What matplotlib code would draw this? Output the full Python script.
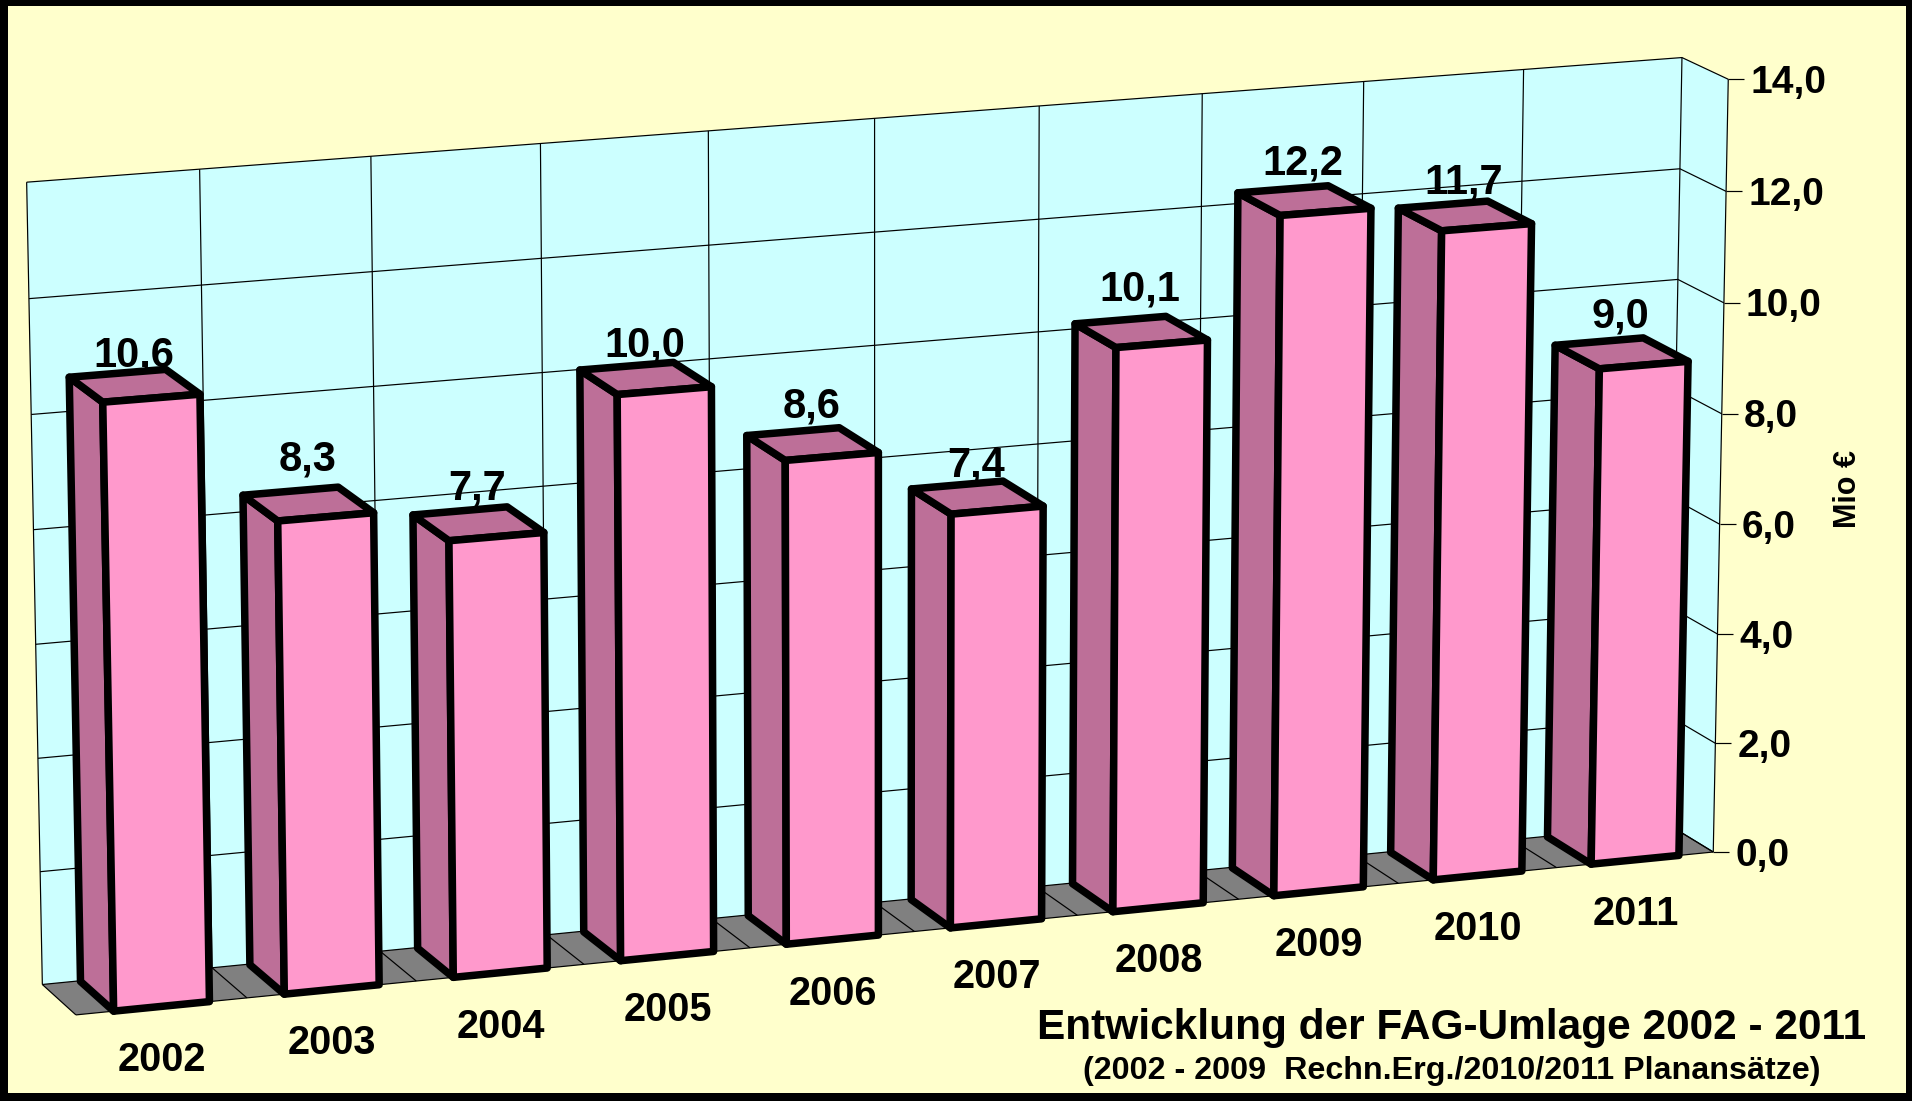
import numpy as np
import matplotlib
matplotlib.use('Agg')
import matplotlib.pyplot as plt
from matplotlib.patches import Polygon, Rectangle

plt.rcParams['font.family'] = ['Liberation Sans', 'DejaVu Sans']

# Data
years = ['2002', '2003', '2004', '2005', '2006', '2007', '2008', '2009', '2010', '2011']
values = [10.6, 8.3, 7.7, 10.0, 8.6, 7.4, 10.1, 12.2, 11.7, 9.0]
y_ticks = [0, 2, 4, 6, 8, 10, 12, 14]
title = 'Entwicklung der FAG-Umlage 2002 - 2011'
subtitle = '(2002 - 2009  Rechn.Erg./2010/2011 Planansätze)'
unit = 'Mio €'

# Hand placed nudges of the value labels, in pixels
label_nudge = [3, -11, -2, 0, -5, 1, -10, -6, -2, -5]

# Calibration of the 3D box: (category, value, depth) -> pixel in the picture
calib = [
    (0, 14, 0, 26.5, 182), (0, 12, 0, 29, 298.7), (0, 10, 0, 31.5, 415), (0, 0, 0, 42, 984),
    (1, 14, 0, 199.5, 169), (10, 14, 0, 1682, 58), (10, 12, 0, 1680, 169), (10, 10, 0, 1678, 279),
    (10, 14, 1, 1728, 79), (10, 12, 1, 1726, 191), (10, 10, 1, 1724, 303), (10, 8, 1, 1722, 414),
    (10, 2, 1, 1715, 743), (10, 0, 1, 1713, 852), (0, 0, 1, 76, 1015), (1, 0, 1, 247, 998),
    (9, 0, 1, 1557, 868),
]


def fit_projection(points):
    rows = []
    for x, v, z, px, py in points:
        X = [x / 10, v / 14, z, 1]
        u, w = px / 1000, py / 1000
        rows.append(X + [0, 0, 0, 0] + [-u * c for c in X])
        rows.append([0, 0, 0, 0] + X + [-w * c for c in X])
    _, _, vt = np.linalg.svd(np.array(rows))
    return vt[-1].reshape(3, 4)


P = fit_projection(calib)


def proj(x, v, z):
    q = P @ np.array([x / 10, v / 14, z, 1])
    return q[0] / q[2] * 1000, q[1] / q[2] * 1000


def quad(*pts):
    return [proj(*p) for p in pts]


YELLOW = '#FFFFCC'
WALL = '#CCFFFF'
FLOOR = '#808080'
FRONT = '#FF99CC'
DARK = '#BD6F98'
px = 0.72  # one pixel in points at dpi 100

fig = plt.figure(figsize=(19.12, 11.01), dpi=100, facecolor=YELLOW)
ax = fig.add_axes([0, 0, 1, 1])
ax.set_xlim(0, 1912)
ax.set_ylim(1101, 0)
ax.axis('off')

n = len(years)
ymax = y_ticks[-1]
grid = dict(color='black', lw=1.2 * px, zorder=2, solid_capstyle='butt')

# Walls and floor
ax.add_patch(Polygon(quad((0, 0, 0), (n, 0, 0), (n, ymax, 0), (0, ymax, 0)), fc=WALL, ec='none', zorder=1))
ax.add_patch(Polygon(quad((n, 0, 0), (n, 0, 1), (n, ymax, 1), (n, ymax, 0)), fc=WALL, ec='none', zorder=1))
ax.add_patch(Polygon(quad((0, 0, 0), (n, 0, 0), (n, 0, 1), (0, 0, 1)), fc=FLOOR, ec='none', zorder=1))

for t in y_ticks:
    ax.plot(*zip(*quad((0, t, 0), (n, t, 0), (n, t, 1))), **grid)
for i in range(n + 1):
    ax.plot(*zip(*quad((i, 0, 0), (i, ymax, 0))), **grid)
    ax.plot(*zip(*quad((i, 0, 0), (i, 0, 1))), **grid)
ax.plot(*zip(*quad((0, 0, 1), (n, 0, 1))), **grid)
ax.plot(*zip(*quad((n, 0, 1), (n, ymax, 1))), **grid)

# Axis ticks and labels
for t in y_ticks:
    tx, ty = proj(n, t, 1)
    ax.plot([tx, tx + 16], [ty, ty], **grid)
    ax.text(tx + 22, ty + 3.5, f'{t:.1f}'.replace('.', ','), fontsize=28, fontweight='bold',
            ha='left', va='center')
ax.text(1848, 489, unit, rotation=90, fontsize=22, fontweight='bold', ha='center', va='center')

# Bars
x0, x1 = 0.22, 0.78
z0, z1 = 0.02, 1.0
for i, (year, val) in enumerate(zip(years, values)):
    a, b = i + x0, i + x1
    lx, ly = proj(i + 0.6, val, z0)
    ax.text(lx - 1 + 0.7 * i, ly - 19 + label_nudge[i], f'{val:.1f}'.replace('.', ','), fontsize=30,
            fontweight='bold', ha='center', va='center', zorder=3)
    style = dict(ec='black', lw=7.5 * px, joinstyle='round', zorder=4 + i * 0.01)
    ax.add_patch(Polygon(quad((a, 0, z0), (a, 0, z1), (a, val, z1), (a, val, z0)), fc=DARK, **style))
    ax.add_patch(Polygon(quad((a, val, z0), (b, val, z0), (b, val, z1), (a, val, z1)), fc=DARK, **style))
    ax.add_patch(Polygon(quad((a, 0, z1), (b, 0, z1), (b, val, z1), (a, val, z1)), fc=FRONT, **style))
    cx, cy = proj(i + 0.5, 0, 1)
    ax.text(cx + 0.5, cy + 54, year, fontsize=28.5, fontweight='bold', ha='center', va='center', zorder=5)

# Title block
ax.text(1452, 1028, title, fontsize=30.5, fontweight='bold', ha='center', va='center', zorder=5)
ax.text(1452, 1071, subtitle, fontsize=23.2, fontweight='bold', ha='center', va='center', zorder=5)

# Frame, slightly thicker on the left and at the bottom
for rect in [(0, 0, 8, 1101), (1906, 0, 6, 1101), (0, 0, 1912, 6), (0, 1093, 1912, 8)]:
    ax.add_patch(Rectangle(rect[:2], rect[2], rect[3], fc='black', ec='none', zorder=10))

fig.savefig('out.png', dpi=100, facecolor=YELLOW)
